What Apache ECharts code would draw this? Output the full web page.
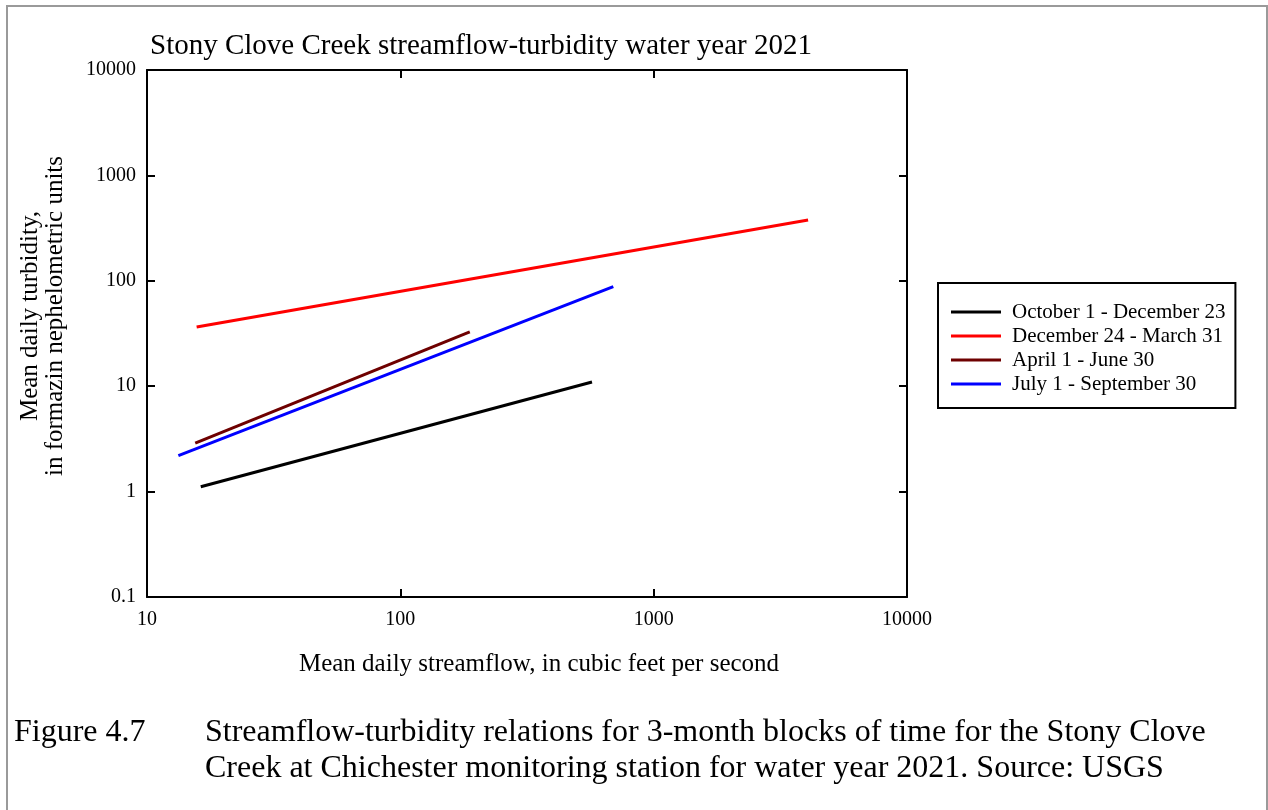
<!DOCTYPE html>
<html>
<head>
<meta charset="utf-8">
<script src="https://cdn.jsdelivr.net/npm/echarts@6/dist/echarts.min.js"></script>
<style>
html,body{margin:0;padding:0;background:#fff;}
#c{width:1268px;height:810px;}
</style>
</head>
<body>
<div id="c"></div>
<script>
// Data (streamflow cfs, turbidity FNU) — endpoints of each fitted relation
const seriesNames = ["October 1 - December 23", "December 24 - March 31", "April 1 - June 30", "July 1 - September 30"];
const octDec = [[16.3, 1.11], [571, 10.96]];
const decMar = [[15.7, 36.5], [4070, 377]];
const aprJun = [[15.5, 2.89], [188, 32.7]];
const julSep = [[13.3, 2.19], [693, 87.9]];
const xTicks = [10, 100, 1000, 10000];
const yTicks = [0.1, 1, 10, 100, 1000, 10000];

const FONT = '"Liberation Serif", "DejaVu Serif", serif';
const colors = ['#000000', '#ff0000', '#6e0000', '#0000ff'];
const datasets = [octDec, decMar, aprJun, julSep];

const chart = echarts.init(document.getElementById('c'), null, {renderer: 'canvas'});

function fmt(v) {
  const r = Number(v.toPrecision(3));
  return String(r);
}

const axisBase = {
  type: 'log', logBase: 10,
  axisLine: {show: true, lineStyle: {color: '#000', width: 2}},
  axisTick: {show: true, inside: true, length: 8, lineStyle: {color: '#000', width: 2}},
  minorTick: {show: false},
  splitLine: {show: false}
};

const option = {
  backgroundColor: '#fff',
  animation: false,
  textStyle: {fontFamily: FONT},
  grid: {left: 147, right: 361, top: 70, bottom: 213, containLabel: false},
  xAxis: [
    Object.assign({}, axisBase, {
      min: xTicks[0], max: xTicks[xTicks.length - 1], position: 'bottom',
      axisLabel: {show: true, color: '#000', fontFamily: FONT, fontSize: 20, margin: 13, formatter: fmt}
    }),
    Object.assign({}, axisBase, {
      min: xTicks[0], max: xTicks[xTicks.length - 1], position: 'top',
      axisLabel: {show: false}
    })
  ],
  yAxis: [
    Object.assign({}, axisBase, {
      min: yTicks[0], max: yTicks[yTicks.length - 1], position: 'left',
      axisLabel: {show: true, color: '#000', fontFamily: FONT, fontSize: 20, margin: 11, formatter: fmt}
    }),
    Object.assign({}, axisBase, {
      min: yTicks[0], max: yTicks[yTicks.length - 1], position: 'right',
      axisLabel: {show: false}
    })
  ],
  legend: {
    orient: 'vertical',
    left: 938, top: 283,
    data: seriesNames,
    borderColor: '#000', borderWidth: 2,
    padding: [17, 10, 12, 13],
    itemWidth: 50, itemHeight: 14, itemGap: 0,
    icon: 'path://M0,5.5 L50,5.5 L50,8.5 L0,8.5 Z',
    textStyle: {fontFamily: FONT, fontSize: 21, lineHeight: 24, color: '#000', padding: [0, 0, 0, 6]}
  },
  series: datasets.map((d, i) => ({
    name: seriesNames[i],
    type: 'line',
    xAxisIndex: 0, yAxisIndex: 0,
    data: d,
    symbol: 'none',
    lineStyle: {color: colors[i], width: 3},
    itemStyle: {color: colors[i]}
  })),
  graphic: [
    {type: 'rect', z: -1, silent: true,
     shape: {x: 7, y: 6, width: 1260, height: 820},
     style: {fill: 'none', stroke: '#9a9a9a', lineWidth: 2}},
    {type: 'text', x: 150, y: 46,
     style: {text: 'Stony Clove Creek streamflow-turbidity water year 2021', font: '29px ' + FONT, fill: '#000', textVerticalAlign: 'middle'}},
    {type: 'text', x: 539, y: 664,
     style: {text: 'Mean daily streamflow, in cubic feet per second', font: '25px ' + FONT, fill: '#000', textAlign: 'center', textVerticalAlign: 'middle'}},
    {type: 'text', x: 43, y: 316, rotation: Math.PI / 2,
     style: {text: 'Mean daily turbidity,\nin formazin nephelometric units', font: '25px ' + FONT, fill: '#000', textAlign: 'center', textVerticalAlign: 'middle', lineHeight: 25}},
    {type: 'text', x: 14, y: 733,
     style: {text: 'Figure 4.7', font: '32px ' + FONT, fill: '#000', textVerticalAlign: 'middle'}},
    {type: 'text', x: 205, y: 751,
     style: {text: 'Streamflow-turbidity relations for 3-month blocks of time for the Stony Clove\nCreek at Chichester monitoring station for water year 2021. Source: USGS', font: '32px ' + FONT, fill: '#000', lineHeight: 36, textVerticalAlign: 'middle'}}
  ]
};
chart.setOption(option);
</script>
</body>
</html>
